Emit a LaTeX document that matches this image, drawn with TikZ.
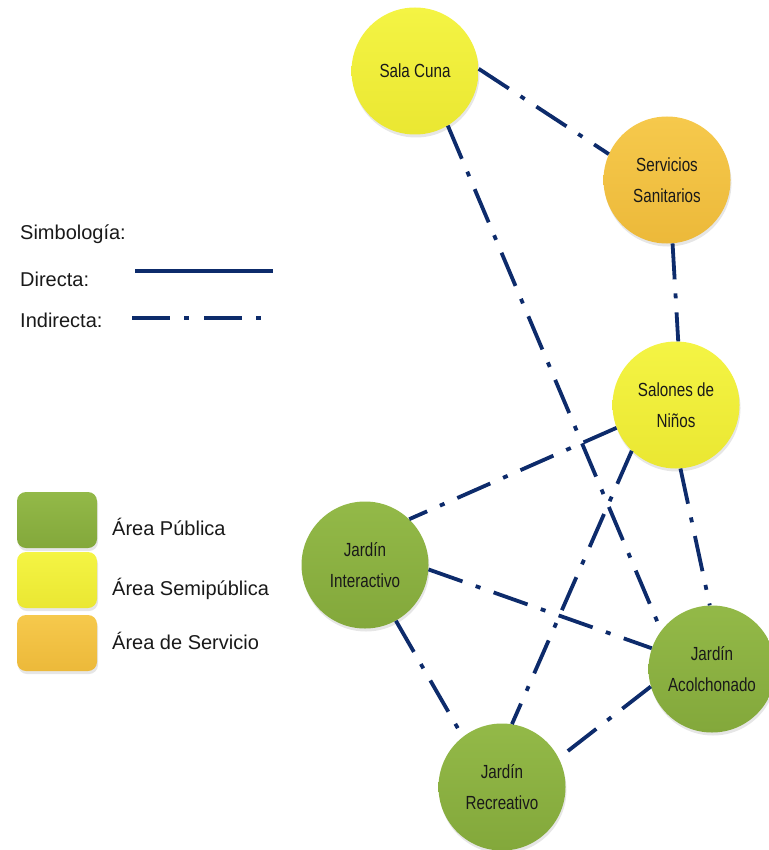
\documentclass[tikz,border=0pt]{standalone}
\usepackage{fontspec}
\setmainfont{Liberation Sans}
\newfontfamily\nodofont[FakeStretch=0.8]{Liberation Sans}
\usetikzlibrary{shadows}

\begin{document}
\begin{tikzpicture}[x=1pt,y=-1pt,
  area/.style={circle, minimum size=127pt, inner sep=0pt, align=center,
    text=black!90, font=\nodofont\fontsize{19}{31}\selectfont,
    drop shadow={opacity=0.2, shadow xshift=1pt, shadow yshift=-3pt}},
  publica/.style={area, top color=verdeC, bottom color=verdeO},
  semipublica/.style={area, top color=amarilloC, bottom color=amarilloO},
  servicio/.style={area, top color=naranjaC, bottom color=naranjaO},
  caja/.style={rounded corners=9pt, minimum width=80pt, minimum height=56pt, inner sep=0pt,
    drop shadow={opacity=0.2, shadow xshift=1pt, shadow yshift=-3pt}},
  leyenda/.style={anchor=base west, inner sep=0pt, text=black!90, font=\fontsize{20}{24}\selectfont},
  directa/.style={draw=azul, line width=3.8pt},
  indirecta/.style={draw=azul, line width=3.8pt, dash pattern=on 36pt off 14pt on 5pt off 14pt}
]

% Colores
\definecolor{verdeC}{HTML}{93B948}
\definecolor{verdeO}{HTML}{83A83B}
\definecolor{amarilloC}{HTML}{F4F444}
\definecolor{amarilloO}{HTML}{EAE732}
\definecolor{naranjaC}{HTML}{F6C94C}
\definecolor{naranjaO}{HTML}{ECB93A}
\definecolor{azul}{HTML}{0D2B6B}

\useasboundingbox (0,0) rectangle (768,850);

% Areas
\node[semipublica] (sala) at (415,71) {Sala Cuna};
\node[servicio] (serv) at (667,180) {Servicios\\Sanitarios};
\node[semipublica] (salones) at (676,405) {Salones de\\Niños};
\node[publica] (inter) at (365,565) {Jardín\\Interactivo};
\node[publica] (acol) at (712,669) {Jardín\\Acolchonado};
\node[publica] (recr) at (502,787) {Jardín\\Recreativo};

% Relaciones
\draw[indirecta] (sala.2) -- (serv.156);
\draw[indirecta] (sala.-59) -- (acol.143);
\draw[indirecta] (serv.-85) -- (salones.88);
\draw[indirecta] (salones.201) -- (inter.46);
\draw[indirecta] (salones.226) -- (recr.81);
\draw[indirecta] (salones.-86) -- (acol.92);
\draw[indirecta] (inter.-4) -- (acol.161);
\draw[indirecta] (inter.-61) -- (recr.128);
\draw[indirecta] (acol.196) -- (recr.27);

% Simbologia
\node[leyenda] (simb) at (20,240) {Simbología:};
\node[leyenda] (dir) at (20,286) {Directa:};
\node[leyenda] (ind) at (20,327) {Indirecta:};
\draw[directa] (135,271) -- (273,271);
\draw[indirecta, dash pattern=on 38pt off 14pt on 5pt off 15pt] (132,318) -- (261,318);

% Tipos de area
\node[caja, top color=verdeC, bottom color=verdeO] (cpub) at (57,520) {};
\node[caja, top color=amarilloC, bottom color=amarilloO] (csemi) at (57,580) {};
\node[caja, top color=naranjaC, bottom color=naranjaO] (cserv) at (57,643) {};
\node[leyenda] (tpub) at (112,535) {Área Pública};
\node[leyenda] (tsemi) at (112,595) {Área Semipública};
\node[leyenda] (tserv) at (112,649) {Área de Servicio};

\end{tikzpicture}
\end{document}
